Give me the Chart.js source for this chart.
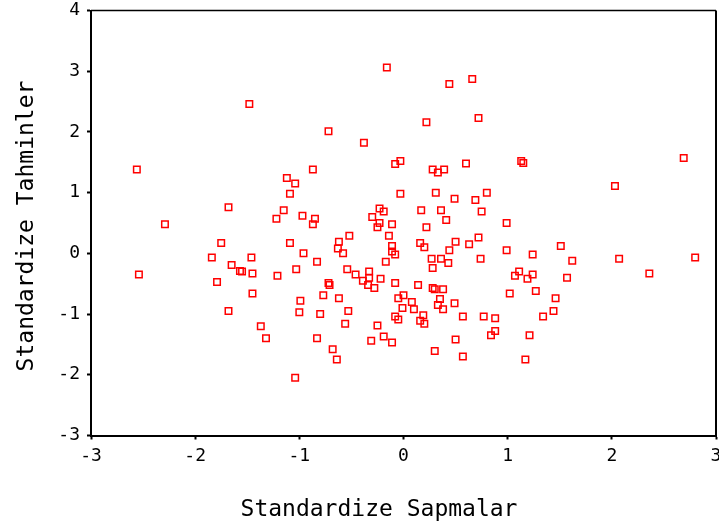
<!DOCTYPE html>
<html>
<head>
<meta charset="utf-8">
<script src="https://cdn.jsdelivr.net/npm/chart.js@4.4.0/dist/chart.umd.min.js"></script>
<style>
html,body{margin:0;padding:0;background:#fff;}
#wrap{width:719px;height:529px;position:relative;}
</style>
</head>
<body>
<div id="wrap"><canvas id="c" width="719" height="529"></canvas></div>
<script>
// Standardize Sapmalar (x) and Standardize Tahminler (y)
const sapmalar = [
-1.48,-2.56,-1.12,-1.04,-1.09,-1.68,-1.15,-1.22,-0.97,-2.29,
-0.16,0.44,0.66,0.22,0.72,-0.72,-0.38,-0.08,-0.03,0.28,
0.33,0.39,0.60,-0.87,-0.03,0.31,0.49,0.69,0.80,-0.23,
-0.19,0.17,0.36,0.75,0.99,-0.85,-0.87,-0.30,-0.23,-0.25,
-0.11,0.22,0.41,1.13,1.15,2.69,2.03,-1.75,-1.09,-1.84,
-1.46,-1.65,-1.57,-1.55,-1.45,-1.21,-1.03,-2.54,-1.79,-1.45,
-0.99,-1.68,-1.00,-1.37,-1.32,-1.04,-0.52,-0.14,-0.62,-0.63,
-0.58,-0.11,-0.11,-0.08,0.16,0.20,0.50,0.44,0.63,0.72,
0.99,-0.96,-0.83,-0.17,0.27,0.36,0.43,0.28,0.74,-0.54,
-0.46,-0.33,-0.39,-0.33,-0.34,-0.28,-0.22,-0.72,-0.71,-0.08,
0.14,0.28,0.30,0.38,-0.77,-0.62,-0.05,0.00,0.08,0.35,
0.33,0.38,0.49,-0.01,0.10,-0.80,-0.53,-0.08,-0.05,0.19,
0.16,0.20,0.57,0.77,0.88,-0.56,-0.25,0.88,0.84,-0.83,
-0.19,-0.31,-0.11,0.50,-0.68,0.30,-0.64,0.57,1.51,1.24,
1.62,2.07,2.80,2.36,1.11,1.07,1.19,1.24,1.57,1.02,
1.27,1.46,1.44,1.34,1.21,1.17
];
const tahminler = [
2.46,1.38,1.24,1.15,0.98,0.76,0.71,0.57,0.62,0.48,
3.06,2.79,2.87,2.16,2.23,2.01,1.82,1.47,1.52,1.38,
1.33,1.38,1.48,1.38,0.98,1.00,0.90,0.88,1.00,0.74,
0.69,0.71,0.71,0.69,0.50,0.57,0.48,0.60,0.50,0.43,
0.48,0.43,0.55,1.52,1.49,1.57,1.11,0.17,0.17,-0.07,
-0.07,-0.19,-0.29,-0.30,-0.33,-0.37,-0.26,-0.35,-0.47,-0.66,
-0.78,-0.95,-0.97,-1.20,-1.40,-2.05,0.29,0.29,0.19,0.08,
0.00,0.12,0.03,-0.02,0.17,0.10,0.19,0.05,0.15,0.26,
0.05,0.00,-0.14,-0.14,-0.09,-0.09,-0.16,-0.24,-0.09,-0.26,
-0.35,-0.30,-0.45,-0.40,-0.52,-0.57,-0.42,-0.49,-0.52,-0.49,
-0.52,-0.57,-0.59,-0.59,-0.69,-0.74,-0.74,-0.69,-0.80,-0.75,
-0.85,-0.92,-0.82,-0.90,-0.92,-1.00,-0.95,-1.04,-1.09,-1.02,
-1.11,-1.16,-1.04,-1.04,-1.07,-1.16,-1.19,-1.28,-1.35,-1.40,
-1.37,-1.44,-1.47,-1.42,-1.58,-1.61,-1.75,-1.70,0.12,-0.02,
-0.12,-0.09,-0.07,-0.33,-0.30,-0.37,-0.42,-0.35,-0.40,-0.66,
-0.62,-0.74,-0.95,-1.04,-1.35,-1.75
];
const xTickLabels = ['-3','-2','-1','0','1','2','3'];
const yTickLabels = ['-3','-2','-1','0','1','2','3','4'];
const xTitle = 'Standardize Sapmalar';
const yTitle = 'Standardize Tahminler';

const points = sapmalar.map((x, i) => ({x: x, y: tahminler[i]}));
const FONT = "'DejaVu Sans Mono', monospace";

const frame = {
  id: 'frame',
  afterDraw(chart) {
    const {ctx, chartArea: a} = chart;
    ctx.save();
    ctx.strokeStyle = '#000';
    ctx.lineWidth = 1.5;
    ctx.beginPath();
    ctx.moveTo(a.left, a.top);
    ctx.lineTo(a.right, a.top);
    ctx.stroke();
    ctx.lineWidth = 2;
    ctx.beginPath();
    ctx.moveTo(a.right, a.top);
    ctx.lineTo(a.right, a.bottom);
    ctx.stroke();
    // axis titles
    ctx.fillStyle = '#000';
    ctx.font = "23px " + FONT;
    ctx.textAlign = 'center';
    ctx.textBaseline = 'alphabetic';
    ctx.fillText(xTitle, 379, 516);
    ctx.translate(33, 226);
    ctx.rotate(-Math.PI / 2);
    ctx.fillText(yTitle, 0, 0);
    ctx.restore();
  }
};

new Chart(document.getElementById('c'), {
  type: 'scatter',
  data: {
    datasets: [{
      data: points,
      pointStyle: 'rect',
      pointRadius: 4.6,
      pointHoverRadius: 4.6,
      borderColor: '#ff0000',
      backgroundColor: 'rgba(0,0,0,0)',
      pointBorderWidth: 1.5,
      borderWidth: 1.5
    }]
  },
  plugins: [frame],
  options: {
    responsive: false,
    animation: false,
    events: [],
    layout: {autoPadding: false, padding: {left: 0, right: 3, top: 10.5, bottom: 0}},
    plugins: {legend: {display: false}, tooltip: {enabled: false}},
    scales: {
      x: {
        type: 'linear',
        min: -3, max: 3,
        afterFit(s) { s.height = 93.5; s.paddingLeft = 0; s.paddingRight = 0; },
        ticks: {
          stepSize: 1,
          color: '#000',
          font: {family: FONT, size: 18},
          padding: 6,
          callback: (v) => xTickLabels[Math.round(v) + 3]
        },
        grid: {drawOnChartArea: false, drawTicks: true, tickLength: 4, tickColor: '#000', tickWidth: 2},
        border: {display: true, color: '#000', width: 2}
      },
      y: {
        type: 'linear',
        min: -3, max: 4,
        afterFit(s) { s.width = 91; s.paddingTop = 0; s.paddingBottom = 0; },
        ticks: {
          stepSize: 1,
          color: '#000',
          font: {family: FONT, size: 18},
          padding: 7,
          callback: (v) => yTickLabels[Math.round(v) + 3]
        },
        grid: {drawOnChartArea: false, drawTicks: true, tickLength: 4, tickColor: '#000', tickWidth: 2},
        border: {display: true, color: '#000', width: 2}
      }
    }
  }
});
</script>
</body>
</html>
